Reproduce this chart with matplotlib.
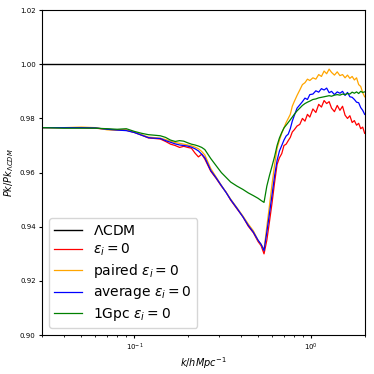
import numpy as np
import matplotlib
matplotlib.use('Agg')
import matplotlib.pyplot as plt

# wavenumbers k [h/Mpc]
k = [0.03, 0.04, 0.05, 0.06, 0.07, 0.08, 0.09, 0.10, 0.11, 0.12,
     0.13, 0.14, 0.15, 0.16, 0.17, 0.18, 0.19, 0.20, 0.21, 0.22,
     0.23, 0.24, 0.25, 0.27, 0.29, 0.31, 0.33, 0.35, 0.38, 0.41,
     0.44, 0.47, 0.50, 0.52, 0.54, 0.56, 0.58, 0.60, 0.62, 0.64,
     0.66, 0.68, 0.70, 0.72, 0.74, 0.76, 0.78, 0.80, 0.83, 0.86,
     0.89, 0.92, 0.95, 0.98, 1.02, 1.06, 1.10, 1.14, 1.18, 1.22,
     1.26, 1.30, 1.35, 1.40, 1.45, 1.50, 1.55, 1.60, 1.65, 1.70,
     1.75, 1.80, 1.85, 1.90, 1.95, 2.00]

# eps_i = 0
red = [0.9766, 0.9766, 0.9766, 0.9764, 0.9760, 0.9758, 0.9757, 0.9748, 0.9738, 0.9728,
       0.9726, 0.9724, 0.9715, 0.9705, 0.9700, 0.9693, 0.9697, 0.9693, 0.9690, 0.9672,
       0.9658, 0.9668, 0.9650, 0.9605, 0.9578, 0.9550, 0.9527, 0.9498, 0.9466, 0.9437,
       0.9402, 0.9378, 0.9345, 0.9330, 0.9300, 0.9350, 0.9420, 0.9490, 0.9565, 0.9630,
       0.9655, 0.9670, 0.9700, 0.9705, 0.9718, 0.9730, 0.9750, 0.9758, 0.9772, 0.9778,
       0.9800, 0.9790, 0.9815, 0.9805, 0.9835, 0.9822, 0.9852, 0.9842, 0.9866, 0.9855,
       0.9862, 0.9838, 0.9825, 0.9848, 0.9830, 0.9845, 0.9812, 0.9800, 0.9810, 0.9785,
       0.9792, 0.9775, 0.9782, 0.9762, 0.9768, 0.9745]

# paired eps_i = 0
orange = [0.9766, 0.9766, 0.9768, 0.9766, 0.9758, 0.9756, 0.9756, 0.9749, 0.9740, 0.9731,
          0.9729, 0.9727, 0.9722, 0.9716, 0.9711, 0.9708, 0.9705, 0.9702, 0.9699, 0.9694,
          0.9688, 0.9678, 0.9665, 0.9615, 0.9583, 0.9553, 0.9527, 0.9502, 0.9470, 0.9440,
          0.9410, 0.9385, 0.9350, 0.9335, 0.9315, 0.9400, 0.9480, 0.9560, 0.9630, 0.9690,
          0.9720, 0.9745, 0.9765, 0.9785, 0.9800, 0.9815, 0.9845, 0.9862, 0.9885, 0.9905,
          0.9925, 0.9932, 0.9945, 0.9940, 0.9950, 0.9945, 0.9962, 0.9955, 0.9975, 0.9965,
          0.9982, 0.9970, 0.9960, 0.9972, 0.9958, 0.9962, 0.9950, 0.9960, 0.9948, 0.9955,
          0.9942, 0.9950, 0.9925, 0.9918, 0.9895, 0.9880]

# average eps_i = 0
blue = [0.9766, 0.9766, 0.9766, 0.9765, 0.9760, 0.9757, 0.9755, 0.9748, 0.9738, 0.9729,
        0.9727, 0.9726, 0.9718, 0.9712, 0.9706, 0.9702, 0.9700, 0.9698, 0.9694, 0.9688,
        0.9680, 0.9668, 0.9655, 0.9608, 0.9580, 0.9552, 0.9526, 0.9500, 0.9468, 0.9437,
        0.9405, 0.9380, 0.9350, 0.9335, 0.9312, 0.9380, 0.9450, 0.9520, 0.9590, 0.9645,
        0.9680, 0.9700, 0.9720, 0.9735, 0.9742, 0.9762, 0.9790, 0.9810, 0.9838, 0.9850,
        0.9862, 0.9875, 0.9870, 0.9888, 0.9890, 0.9902, 0.9897, 0.9910, 0.9905, 0.9912,
        0.9895, 0.9900, 0.9888, 0.9898, 0.9893, 0.9900, 0.9885, 0.9896, 0.9880, 0.9878,
        0.9870, 0.9860, 0.9858, 0.9840, 0.9830, 0.9815]

# 1Gpc eps_i = 0
green = [0.9766, 0.9764, 0.9764, 0.9764, 0.9762, 0.9760, 0.9762, 0.9752, 0.9745, 0.9740,
         0.9738, 0.9736, 0.9730, 0.9720, 0.9715, 0.9718, 0.9716, 0.9710, 0.9705, 0.9702,
         0.9698, 0.9693, 0.9685, 0.9652, 0.9625, 0.9600, 0.9582, 0.9565, 0.9550, 0.9538,
         0.9525, 0.9515, 0.9505, 0.9497, 0.9490, 0.9550, 0.9590, 0.9625, 0.9660, 0.9700,
         0.9728, 0.9748, 0.9765, 0.9775, 0.9785, 0.9795, 0.9805, 0.9815, 0.9828, 0.9838,
         0.9848, 0.9855, 0.9860, 0.9864, 0.9870, 0.9872, 0.9876, 0.9878, 0.9880, 0.9882,
         0.9884, 0.9882, 0.9886, 0.9888, 0.9886, 0.9890, 0.9888, 0.9892, 0.9890, 0.9897,
         0.9893, 0.9898, 0.9892, 0.9900, 0.9896, 0.9898]

fig = plt.figure(figsize=(3.74, 3.74), dpi=100)
ax = fig.add_axes([0.112, 0.104, 0.863, 0.869])

ax.axhline(1.0, color='black', lw=1.0, label=r'$\Lambda$CDM')
ax.plot(k, red, color='red', lw=0.9, label=r'$\varepsilon_i=0$')
ax.plot(k, orange, color='orange', lw=0.9, label=r'paired $\varepsilon_i=0$')
ax.plot(k, blue, color='blue', lw=0.9, label=r'average $\varepsilon_i=0$')
ax.plot(k, green, color='green', lw=0.9, label=r'1Gpc $\varepsilon_i=0$')

ax.set_xscale('log')
ax.set_xlim(0.03, 2.0)
ax.set_ylim(0.90, 1.02)
ax.set_yticks(np.arange(0.90, 1.021, 0.02))
ax.tick_params(labelsize=5, length=2.5, pad=2)
ax.tick_params(which='minor', length=1.5)
ax.set_xlabel(r'$k/hMpc^{-1}$', fontsize=7, labelpad=2)
ax.set_ylabel(r'$Pk/Pk_{\Lambda CDM}$', fontsize=7, labelpad=3)
ax.legend(loc='lower left', fontsize=10, handlelength=2.0, labelspacing=0.3)

plt.savefig('out.png', dpi=100)
